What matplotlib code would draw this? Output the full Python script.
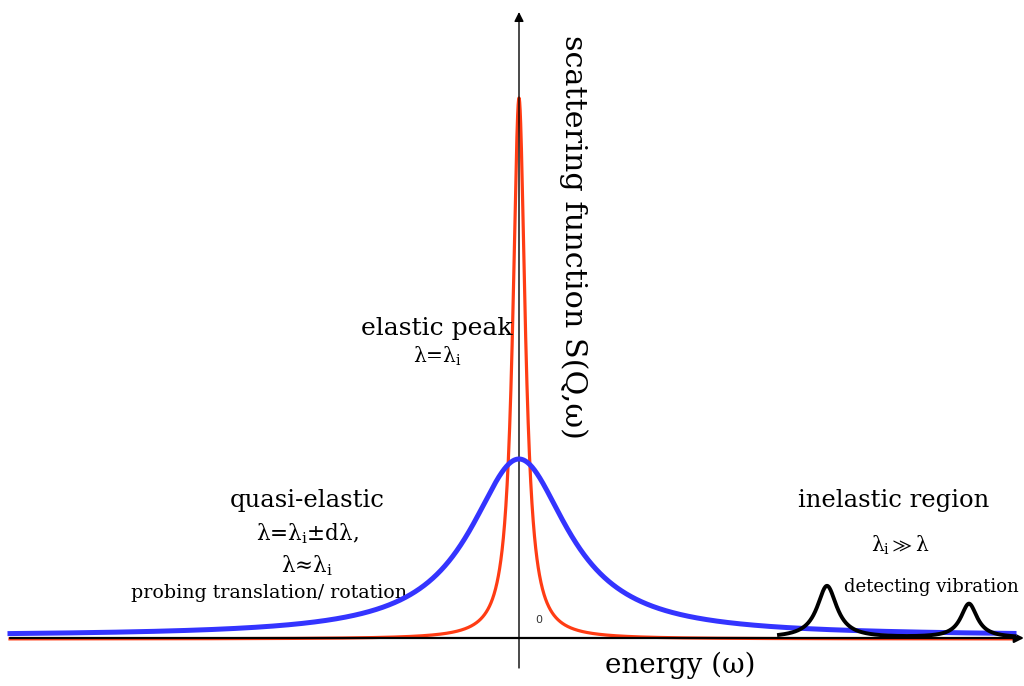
import matplotlib
matplotlib.use("Agg")
import matplotlib.pyplot as plt
import numpy as np

plt.rcParams["font.family"] = ["DejaVu Serif"]
plt.rcParams["mathtext.fontset"] = "dejavuserif"

# peak parameters (energy units, height units)
ELASTIC_CENTER = 0.0
ELASTIC_HEIGHT = 5.41
ELASTIC_WIDTH = 0.075

QUASI_CENTER = 0.0
QUASI_HEIGHT = 1.77
QUASI_WIDTH = 0.6

INELASTIC_CENTERS = [3.08, 4.50]
INELASTIC_HEIGHTS = [0.52, 0.34]
INELASTIC_WIDTHS = [0.12, 0.10]

X_START = -5.09
X_END = 4.95
INELASTIC_START = 2.6


def lorentzian(x, center, height, width):
    return height / (1.0 + ((x - center) / width) ** 2)


def main() -> None:
    figure = plt.figure(figsize=(10.24, 6.86), dpi=100)
    axis = figure.add_axes([0, 0, 1, 1])
    axis.set_xlim(-5.19, 5.05)
    axis.set_ylim(-0.48, 6.38)
    axis.axis("off")

    energy = np.linspace(X_START, X_END, 4000)
    elastic = lorentzian(energy, ELASTIC_CENTER, ELASTIC_HEIGHT, ELASTIC_WIDTH)
    quasi = lorentzian(energy, QUASI_CENTER, QUASI_HEIGHT, QUASI_WIDTH)

    inel_x = energy[energy >= INELASTIC_START]
    inelastic = np.zeros_like(inel_x)
    for c, h, w in zip(INELASTIC_CENTERS, INELASTIC_HEIGHTS, INELASTIC_WIDTHS):
        inelastic += lorentzian(inel_x, c, h, w)

    axis.plot(energy, elastic - 0.01, color="#ff3c14", lw=2.3, zorder=2)
    # axes arrows
    axis.annotate("", xy=(5.05, 0.0), xytext=(X_START, 0.0),
                  arrowprops=dict(arrowstyle="-|>", color="black", lw=1.6,
                                  mutation_scale=14, shrinkA=0, shrinkB=0),
                  annotation_clip=False, zorder=3)
    axis.annotate("", xy=(0.0, 6.26), xytext=(0.0, -0.30),
                  arrowprops=dict(arrowstyle="-|>", color="black", lw=1.0,
                                  mutation_scale=14, shrinkA=0, shrinkB=0),
                  annotation_clip=False, zorder=3)
    axis.plot(energy, quasi + 0.02, color="#3434ff", lw=3.6, zorder=4)
    axis.plot(inel_x, inelastic, color="black", lw=2.8, zorder=5)

    axis.text(0.54, 4.01, "scattering function S(Q,ω)", rotation=-90,
              ha="center", va="center", fontsize=21.8)
    axis.text(1.61, -0.27, "energy (ω)", ha="center", va="center", fontsize=20)
    axis.text(0.2, 0.18, "0", ha="center", va="center", fontsize=8,
              family="DejaVu Sans", color="#333333")

    axis.text(-0.82, 3.10, "elastic peak", ha="center", va="center", fontsize=18)
    axis.text(-0.82, 2.82, r"λ=λ$_\mathrm{i}$", ha="center", va="center", fontsize=14.5)

    axis.text(-2.12, 1.37, "quasi-elastic", ha="center", va="center", fontsize=17.5)
    axis.text(-2.12, 1.04, r"λ=λ$_\mathrm{i}$±dλ,", ha="center", va="center", fontsize=15.5)
    axis.text(-2.12, 0.72, r"λ≈λ$_\mathrm{i}$", ha="center", va="center", fontsize=15.5)
    axis.text(-2.50, 0.45, "probing translation/ rotation", ha="center",
              va="center", fontsize=13.7)

    axis.text(3.75, 1.37, "inelastic region", ha="center", va="center", fontsize=17.5)
    axis.text(3.81, 0.93, r"λ$_\mathrm{i}\gg$λ", ha="center", va="center", fontsize=14.5)
    axis.text(4.12, 0.51, "detecting vibration", ha="center", va="center", fontsize=13)

    figure.savefig("out.png", dpi=100)
    plt.close(figure)


if __name__ == "__main__":
    main()
